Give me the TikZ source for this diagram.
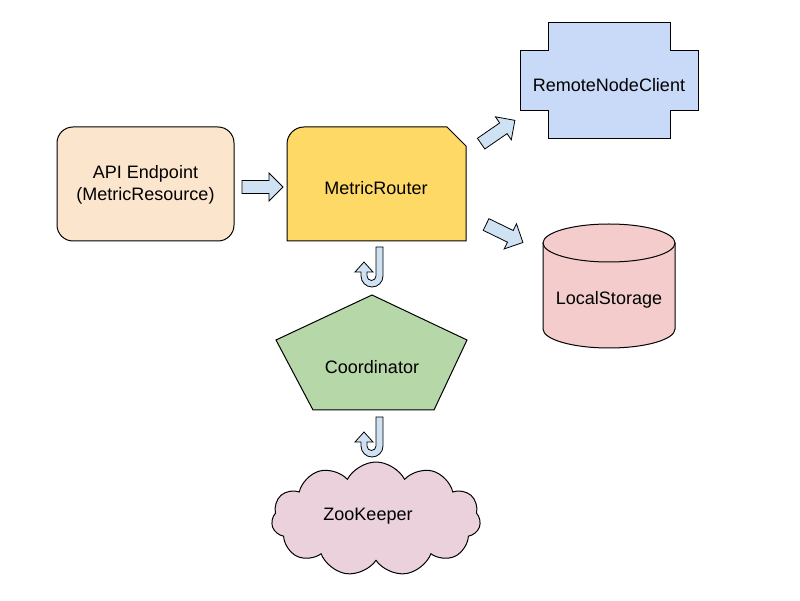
\documentclass[tikz,border=0pt]{standalone}
\usepackage{fontspec}
\setmainfont{Liberation Sans}
\usetikzlibrary{shapes.geometric,shapes.symbols}
\definecolor{apipeach}{HTML}{FCE5CD}
\definecolor{routeryellow}{HTML}{FFD966}
\definecolor{remoteblue}{HTML}{C9DAF8}
\definecolor{storagepink}{HTML}{F4CCCC}
\definecolor{coordgreen}{HTML}{B6D7A8}
\definecolor{zoopink}{HTML}{EAD1DC}
\definecolor{arrowblue}{HTML}{CFE2F3}
\begin{document}
\begin{tikzpicture}[x=1pt,y=1pt,
  lbl/.style={font=\fontsize{18}{22}\selectfont, text=black, inner sep=0pt, align=center},
  outline/.style={draw=black, line width=1pt, line join=miter},
  blockarrow/.style={draw=black, fill=arrowblue, line width=0.8pt, line join=miter}]
\useasboundingbox (0,0) rectangle (800,600);

% API Endpoint
\draw[outline, fill=apipeach, rounded corners=16] (57,359) rectangle (234,473);
\node[lbl] (api) at (145.5,415) {API Endpoint\\(MetricResource)};

% MetricRouter
\draw[outline, fill=routeryellow] (287,359) -- (287,456) arc[start angle=180, end angle=90, radius=17] -- (447,473) -- (466,454) -- (466,359) -- cycle;
\node[lbl] (router) at (376,412) {MetricRouter};

% RemoteNodeClient (plus shape)
\draw[outline, fill=remoteblue] (548,577) -- (670,577) -- (670,549) -- (698,549) -- (698,489) -- (670,489) -- (670,461) -- (548,461) -- (548,489) -- (520,489) -- (520,549) -- (548,549) -- cycle;
\node[lbl] (remote) at (609,515) {RemoteNodeClient};

% LocalStorage cylinder
\fill[storagepink] (543,357) -- (543,271) arc[start angle=180, end angle=360, x radius=66, y radius=19] -- (675,357) arc[start angle=0, end angle=180, x radius=66, y radius=19] -- cycle;
\draw[outline] (543,357) -- (543,271) arc[start angle=180, end angle=360, x radius=66, y radius=19] -- (675,357);
\draw[outline] (609,357) ellipse[x radius=66, y radius=19];
\node[lbl] (storage) at (609,300) {LocalStorage};

% Coordinator pentagon
\draw[outline, fill=coordgreen] (372,305) -- (467,260) -- (434,190) -- (313,190) -- (276,260) -- cycle;
\node[lbl] (coord) at (372,233) {Coordinator};

% ZooKeeper cloud
\node[cloud, outline, fill=zoopink, cloud puffs=11, cloud puff arc=125, aspect=1.8, minimum width=209, minimum height=114, inner sep=0pt] (zkshape) at (376,81) {};
\node[lbl] (zk) at (368,84) {ZooKeeper};

% block arrows
\draw[blockarrow, shift={(262.5,413)}] (-20.5,-6.5) -- (6.5,-6.5) -- (6.5,-14) -- (20.5,0) -- (6.5,14) -- (6.5,6.5) -- (-20.5,6.5) -- cycle;
\draw[blockarrow, shift={(498,468)}, rotate=34.6] (-20.5,-6.5) -- (6.5,-6.5) -- (6.5,-14) -- (20.5,0) -- (6.5,14) -- (6.5,6.5) -- (-20.5,6.5) -- cycle;
\draw[blockarrow, shift={(504.5,366.5)}, rotate=-26] (-20.5,-6.5) -- (6.5,-6.5) -- (6.5,-14) -- (20.5,0) -- (6.5,14) -- (6.5,6.5) -- (-20.5,6.5) -- cycle;

% U-turn arrows
\draw[blockarrow] (376,353) -- (383,353) -- (383,324) arc[start angle=0, end angle=-180, radius=11] -- (361,328) -- (355,328) -- (364,338) -- (373,328) -- (367,328) -- (367,324) arc[start angle=180, end angle=360, radius=4.5] -- cycle;
\draw[blockarrow, shift={(0,-170)}] (376,353) -- (383,353) -- (383,324) arc[start angle=0, end angle=-180, radius=11] -- (361,328) -- (355,328) -- (364,338) -- (373,328) -- (367,328) -- (367,324) arc[start angle=180, end angle=360, radius=4.5] -- cycle;
\end{tikzpicture}
\end{document}
